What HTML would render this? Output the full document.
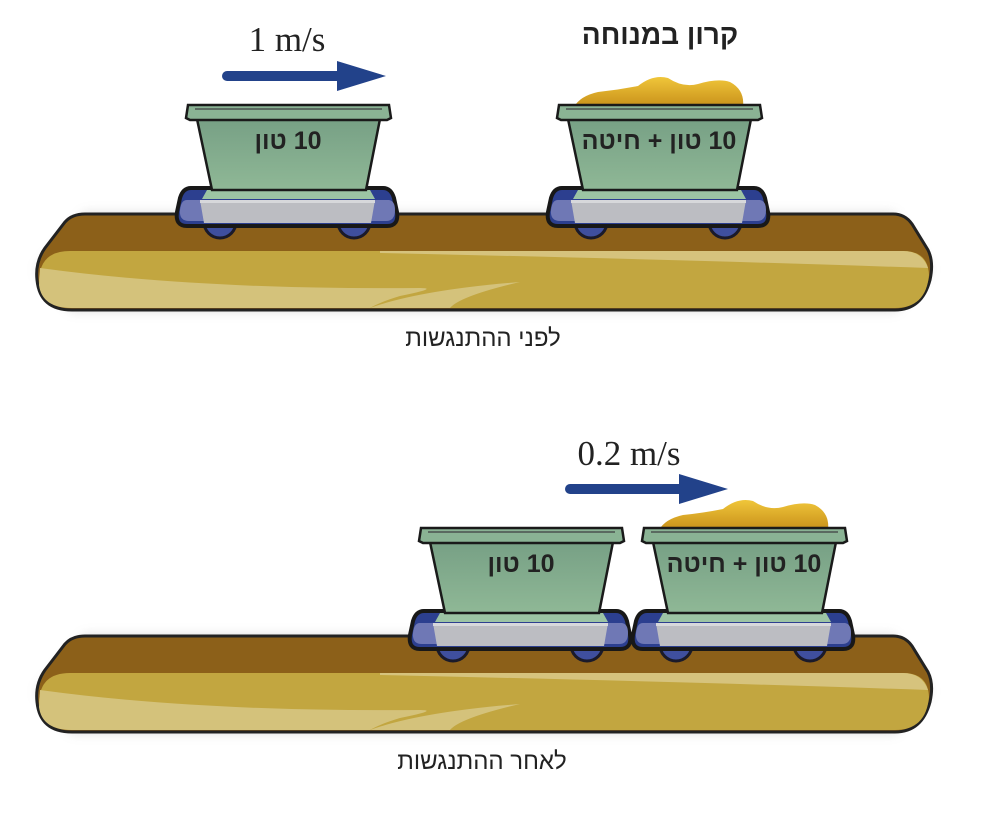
<!DOCTYPE html>
<html><head><meta charset="utf-8"><style>
html,body{margin:0;padding:0;background:#fff;}
svg{display:block;}
</style></head><body>
<svg width="1002" height="814" viewBox="0 0 1002 814" xmlns="http://www.w3.org/2000/svg">
<defs>
<filter id="sh" x="-10%" y="-20%" width="120%" height="150%"><feGaussianBlur stdDeviation="6"/></filter>
<linearGradient id="bodyg" x1="0" y1="0" x2="0" y2="1"><stop offset="0" stop-color="#77a085"/><stop offset="1" stop-color="#8fb896"/></linearGradient>
<linearGradient id="grain" x1="0" y1="0" x2="0" y2="1"><stop offset="0" stop-color="#f0c63a"/><stop offset="1" stop-color="#c8901a"/></linearGradient>
<g id="belt">
<path d="M85,214 L893,214 Q905,214 912,224 L928,250 Q934,262 930,280 Q922,310 895,310 L72,310 Q40,310 37,280 Q35,262 45,248 L65,222 Q72,214 85,214 Z" fill="#8c6019" stroke="#222" stroke-width="3"/>
<path d="M70,251 L903,251 Q928,251 929,275 Q926,308 895,308 L72,308 Q42,308 39,280 Q40,251 70,251Z" fill="#c2a640"/>
<path d="M40,268 Q200,290 420,288 Q440,288 400,296 Q380,302 370,308 L72,308 Q42,308 39,285Z" fill="#d4c27b"/>
<path d="M370,308 Q420,290 520,282 Q460,296 450,308Z" fill="#d4c27b"/>
<path d="M380,251 L903,251 Q922,251 928,268 Q700,260 380,253Z" fill="#d6c37d"/>
</g>
<g id="cart">
<circle cx="33" cy="118" r="16" fill="#3f4f9e" stroke="#1a1a2a" stroke-width="3"/>
<circle cx="167" cy="118" r="16" fill="#3f4f9e" stroke="#1a1a2a" stroke-width="3"/>
<path d="M4,84 L196,84 Q204,84 207,94 L210,108 Q212,122 200,122 L0,122 Q-12,122 -10,108 L-7,94 Q-4,84 4,84Z" fill="#2c3f8f" stroke="#181818" stroke-width="4"/>
<path d="M0,96 L202,96 Q208,97 208,106 Q208,117 199,117 L2,117 Q-8,117 -7,106 Q-6,96 0,96Z" fill="#6f78b5"/>
<path d="M13,96 L188,96 L184,119 L17,119Z" fill="#bcbdc2"/>
<path d="M13,96 L188,96 L188,99 L13,99Z" fill="#d7d8db"/>
<path d="M20,86 L183,86 L188,95 L15,95Z" fill="#9cc4a4"/>
<path d="M10,15 L193,15 L179,86 L25,86Z" fill="url(#bodyg)" stroke="#1a1a1a" stroke-width="2.5"/>
<path d="M1,1 L202,1 L204,14 L200,16 L3,16 L-1,14Z" fill="#8ab394" stroke="#1a1a1a" stroke-width="2.5"/>
<path d="M8,5 L195,5" stroke="#5a6a60" stroke-width="2"/>
</g>
<path id="grainp" d="M16,3 Q22,-8 40,-12 Q60,-14 80,-18 Q95,-30 110,-26 Q125,-16 140,-20 Q160,-26 172,-22 Q187,-14 185,3 Z" fill="url(#grain)"/>
</defs>

<path d="M85,214 L893,214 L930,270 L895,310 L72,310 L37,270Z" fill="#888" opacity="0.35" filter="url(#sh)"/>
<use href="#belt"/>
<g transform="translate(187,104)"><use href="#cart"/>
<text x="101" y="45" text-anchor="middle" direction="rtl" font-family="'Liberation Sans','Noto Sans CJK JP',sans-serif" font-size="25" font-weight="bold" fill="#222">10 טון</text></g>
<g transform="translate(558,104)"><use href="#grainp"/><use href="#cart"/>
<text x="101" y="45" text-anchor="middle" direction="rtl" font-family="'Liberation Sans','Noto Sans CJK JP',sans-serif" font-size="25" font-weight="bold" fill="#222">10 טון + חיטה</text></g>

<text x="287" y="51" text-anchor="middle" font-family="'Liberation Serif',serif" font-size="35" fill="#222">1 m/s</text>
<line x1="227" y1="76" x2="340" y2="76" stroke="#22428a" stroke-width="10" stroke-linecap="round"/>
<path d="M337,61 L386,76 L337,91Z" fill="#22428a"/>
<text x="660" y="44" text-anchor="middle" direction="rtl" font-family="'Liberation Sans','Noto Sans CJK JP',sans-serif" font-size="28" font-weight="bold" fill="#222">קרון במנוחה</text>
<text x="483" y="346" text-anchor="middle" direction="rtl" font-family="'Liberation Sans','Noto Sans CJK JP',sans-serif" font-size="24" fill="#222">לפני ההתנגשות</text>

<g transform="translate(0,422)">
<path d="M85,214 L893,214 L930,270 L895,310 L72,310 L37,270Z" fill="#888" opacity="0.35" filter="url(#sh)"/>
<use href="#belt"/></g>
<g transform="translate(420,527)"><use href="#cart"/>
<text x="101" y="45" text-anchor="middle" direction="rtl" font-family="'Liberation Sans','Noto Sans CJK JP',sans-serif" font-size="25" font-weight="bold" fill="#222">10 טון</text></g>
<g transform="translate(643,527)"><use href="#grainp"/><use href="#cart"/>
<text x="101" y="45" text-anchor="middle" direction="rtl" font-family="'Liberation Sans','Noto Sans CJK JP',sans-serif" font-size="25" font-weight="bold" fill="#222">10 טון + חיטה</text></g>

<text x="629" y="465" text-anchor="middle" font-family="'Liberation Serif',serif" font-size="35" fill="#222">0.2 m/s</text>
<line x1="570" y1="489" x2="682" y2="489" stroke="#22428a" stroke-width="10" stroke-linecap="round"/>
<path d="M679,474 L728,489 L679,504Z" fill="#22428a"/>
<text x="482" y="769" text-anchor="middle" direction="rtl" font-family="'Liberation Sans','Noto Sans CJK JP',sans-serif" font-size="24" fill="#222">לאחר ההתנגשות</text>
</svg>
</body></html>
